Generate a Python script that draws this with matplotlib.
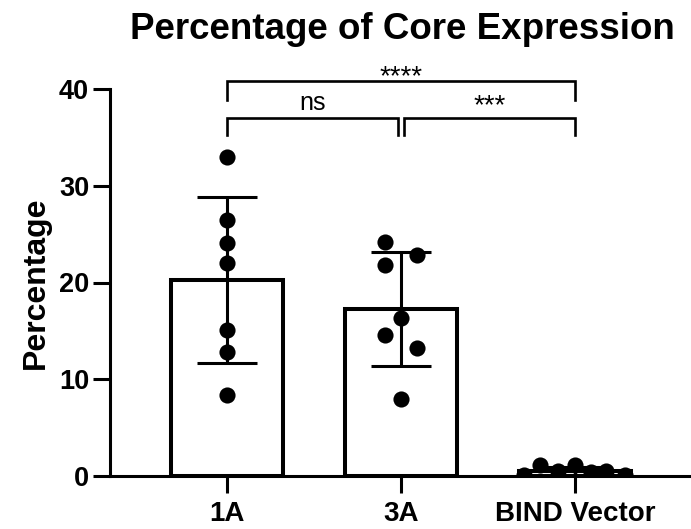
import matplotlib
matplotlib.use("Agg")
import matplotlib.pyplot as plt
import numpy as np

plt.rcParams['font.family'] = ['Liberation Sans', 'DejaVu Sans']

categories = ["1A", "3A", "BIND Vector"]
values_1A = [33.0, 26.5, 24.05, 22.0, 15.1, 12.8, 8.4]
values_3A = [24.2, 21.8, 22.8, 16.3, 14.6, 13.2, 8.0]
values_BIND = [0.1, 1.1, 0.5, 1.1, 0.4, 0.5, 0.1]
offsets_1A = [0, 0, 0, 0, 0, 0, 0]
offsets_3A = [-0.09, -0.09, 0.09, 0, -0.09, 0.09, 0]
offsets_BIND = [-0.29, -0.2, -0.1, 0, 0.09, 0.18, 0.29]
yticks = [0, 10, 20, 30, 40]
comparisons = [(0, 1, "ns"), (1, 2, "***"), (0, 2, "****")]

groups = [values_1A, values_3A, values_BIND]
offsets = [offsets_1A, offsets_3A, offsets_BIND]
means = [np.mean(g) for g in groups]
sds = [np.std(g, ddof=1) for g in groups]

fig = plt.figure(figsize=(6.91, 5.29), dpi=100)
ax = fig.add_axes([110/691, 53/529, 1 - 110/691, (476-89)/529])
x = np.arange(len(categories))

ax.bar(x, means, width=0.64, facecolor='white', edgecolor='black', linewidth=2.9, zorder=2)
ax.errorbar(x, means, yerr=sds, fmt='none', ecolor='black', elinewidth=2.2,
            capsize=21.5, capthick=2.2, zorder=3)
for i, (g, o) in enumerate(zip(groups, offsets)):
    ax.scatter(np.array(o) + x[i], g, s=135, color='black', zorder=4, linewidths=0)

ax.set_xlim(-0.672, 2.667)
ax.set_ylim(0, 40)
ax.set_yticks(yticks)
ax.set_xticks(x)
ax.set_xticklabels(categories)
for sp in ['top', 'right']:
    ax.spines[sp].set_visible(False)
for sp in ['left', 'bottom']:
    ax.spines[sp].set_linewidth(2.2)
ax.tick_params(axis='both', width=2.2, length=12, labelsize=19.5)
ax.tick_params(axis='x', length=12, labelsize=20, pad=6)
ax.tick_params(axis='y', pad=3)
for lab in ax.get_xticklabels() + ax.get_yticklabels():
    lab.set_fontweight('bold')

ax.set_ylabel("Percentage", fontsize=23, fontweight='bold', labelpad=6)
fig.text(402/691, 1 - 39/529, "Percentage of Core Expression", fontsize=26.5,
         fontweight='bold', ha='center', va='baseline')

# significance brackets: (bracket top, leg bottom, text baseline, fontsize)
levels = {"ns": (37.0, 35.25, 37.8, 18),
          "***": (37.0, 35.25, 37.45, 20),
          "****": (40.86, 38.86, 40.45, 20)}
for a, b, lab in comparisons:
    top, leg, tb, fs = levels[lab]
    xa, xb = x[a], x[b]
    if lab == "ns":
        xb = xb - 0.015
    if lab == "***":
        xa = xa + 0.015
    ax.plot([xa, xa, xb, xb], [leg, top, top, leg], color='black', lw=1.9,
            clip_on=False, solid_joinstyle='miter', zorder=5)
    ax.text((xa + xb) / 2, tb, lab, ha='center', va='baseline',
            fontsize=fs, clip_on=False)

fig.savefig("out.png", dpi=100, facecolor='white')
